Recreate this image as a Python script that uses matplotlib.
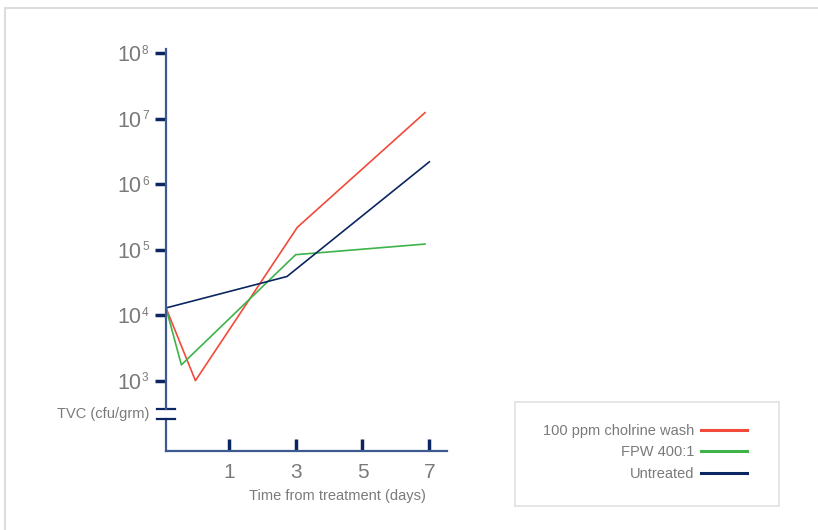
import matplotlib
matplotlib.use("Agg")
import matplotlib.pyplot as plt
import matplotlib.transforms as mtransforms
from matplotlib.lines import Line2D

plt.rcParams['font.family'] = ['Liberation Sans', 'DejaVu Sans']

# Data
series_names = ["100 ppm cholrine wash", "FPW 400:1", "Untreated"]
chlorine_days = [-0.88, 0.0, 3.05, 6.87]
chlorine_tvc = [1.29e4, 1.0e3, 2.2e5, 1.24e7]
fpw_days = [-0.88, -0.42, 3.0, 6.87]
fpw_tvc = [1.29e4, 1.74e3, 8.4e4, 1.22e5]
untreated_days = [-0.88, 2.74, 7.0]
untreated_tvc = [1.29e4, 3.9e4, 2.2e6]
x_ticks = [1, 3, 5, 7]
y_ticks = [1e3, 1e4, 1e5, 1e6, 1e7, 1e8]
y_tick_exps = ["3", "4", "5", "6", "7", "8"]

RED = "#f24a3a"
GREEN = "#3db34a"
NAVY = "#0b2660"
SPINE = "#3d5a8e"
GREY = "#7a7a7a"

fig = plt.figure(figsize=(8.18, 5.30), dpi=100)
ax = fig.add_axes([166 / 818, (530 - 450.7) / 530, 280.7 / 818, 401.7 / 530])

ax.plot(chlorine_days, chlorine_tvc, color=RED, lw=1.2, label=series_names[0])
ax.plot(fpw_days, fpw_tvc, color=GREEN, lw=1.2, label=series_names[1])
ax.plot(untreated_days, untreated_tvc, color=NAVY, lw=1.2, label=series_names[2])

ax.set_yscale("log")
ax.set_xlim(-0.88, 7.52)
ax.set_ylim(10 ** 1.93, 10 ** 8.066)
ax.set_xticks(x_ticks)
ax.set_xticklabels([str(t) for t in x_ticks])
ax.set_yticks(y_ticks)
ax.set_yticklabels(["10"] * len(y_ticks))
ax.yaxis.set_minor_locator(matplotlib.ticker.NullLocator())

ax.tick_params(axis="x", direction="in", length=9, width=2.5, color=NAVY,
               labelcolor=GREY, labelsize=15, pad=9)
ax.tick_params(axis="y", direction="out", length=8, width=2.5, color=NAVY,
               labelcolor=GREY, labelsize=15.5, pad=9.5)

# exponents next to the "10" labels
sup_trans = mtransforms.offset_copy(
    mtransforms.blended_transform_factory(ax.transAxes, ax.transData),
    fig=fig, x=0, y=8.5, units="dots")
for yt, ex in zip(y_ticks, y_tick_exps):
    ax.text((142 - 166) / 280.7, yt, ex, transform=sup_trans, ha="left", va="top",
            color=GREY, fontsize=8.5, clip_on=False)

for s in ["top", "right"]:
    ax.spines[s].set_visible(False)
ax.spines["bottom"].set_color(SPINE)
ax.spines["bottom"].set_linewidth(1.6)
ax.spines["left"].set_color(SPINE)
ax.spines["left"].set_linewidth(1.6)

# axis break on the y axis
brk_top = 10 ** 2.57
brk_bot = 10 ** 2.42
ax.spines["left"].set_bounds(brk_top, 10 ** 8.066)
trans = mtransforms.blended_transform_factory(ax.transAxes, ax.transData)
ax.plot([0, 0], [10 ** 1.93, brk_bot], color=SPINE, lw=1.6, transform=trans, clip_on=False)
for yb in (brk_top, brk_bot):
    ax.plot([-0.032, 0.032], [yb, yb], color=NAVY, lw=1.6, transform=trans, clip_on=False)
ax.text(-0.06, 10 ** 2.495, "TVC (cfu/grm)", transform=trans, ha="right", va="center",
        color=GREY, fontsize=10.5)

ax.set_xlabel("Time from treatment (days)", color=GREY, fontsize=10.5, labelpad=8)
ax.xaxis.set_label_coords(0.61, -0.095)

# legend in its own framed box
lax = fig.add_axes([515 / 818, (530 - 506) / 530, 264 / 818, 104 / 530])
lax.set_xticks([])
lax.set_yticks([])
for s in lax.spines.values():
    s.set_color("#e2e2e2")
    s.set_linewidth(1.2)
handles, labels = ax.get_legend_handles_labels()
lax.legend(handles, labels, loc="upper right", bbox_to_anchor=(0.88, 0.792),
           frameon=False, markerfirst=False, fontsize=10.5, labelcolor=GREY,
           handlelength=3.15, handletextpad=0.5, labelspacing=0.52,
           borderpad=0, borderaxespad=0)
for h in lax.get_legend().get_lines():
    h.set_linewidth(2.2)

# light outer frame
fig.add_artist(Line2D([5 / 818, 1], [1 - 8 / 530, 1 - 8 / 530], color="#dddddd", lw=1.5))
fig.add_artist(Line2D([5 / 818, 5 / 818], [0, 1 - 8 / 530], color="#dddddd", lw=1.5))

fig.savefig("out.png", dpi=100)
